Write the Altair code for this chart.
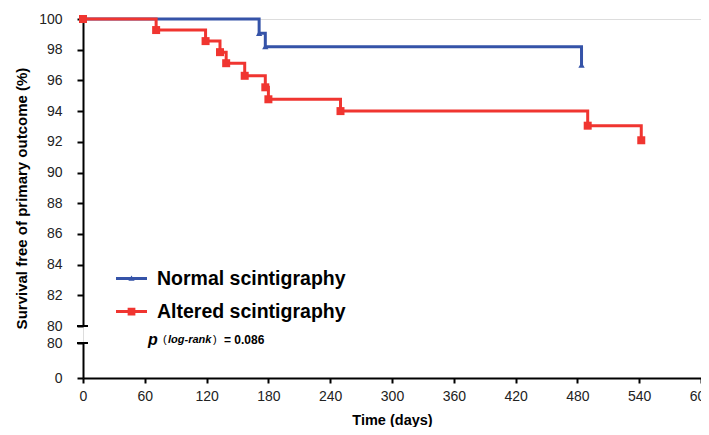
import altair as alt
import pandas as pd

# ---- data ----
normal_days = [0, 171, 177, 484]
normal_surv = [100, 99.07, 98.2, 97.0]
altered_days = [0, 71, 119, 133, 139, 157, 177, 180, 250, 490, 542]
altered_surv = [100, 99.28, 98.56, 97.84, 97.12, 96.3, 95.55, 94.77, 94.0, 93.05, 92.1]
series_names = ["Normal scintigraphy", "Altered scintigraphy"]
series_colors = ["#3553A8", "#F03530"]
x_ticks = list(range(0, 601, 60))
y_ticks_upper = list(range(80, 101, 2))
y_ticks_lower = [0, 80]
p_text = ["p", "(", "log-rank", ")", "= 0.086"]

FONT = "Liberation Sans"
W = 618
H = 359          # full plot height (both parts of the broken axis)
H_UP = 307       # upper part 80..100
LO_TOP = 324     # lower part 0..80 spans LO_TOP..H

normal_df = pd.DataFrame({"t": normal_days, "s": normal_surv})
altered_df = pd.DataFrame({"t": altered_days, "s": altered_surv})
legend_df = pd.DataFrame({"series": series_names, "t": [None, None], "s": [None, None]})

axis_common = dict(
    domainColor="black", domainWidth=2, tickColor="black", tickWidth=2,
    labelFont=FONT, labelFontSize=14, labelColor="#222", grid=False,
    titleFont=FONT, titleFontWeight="bold", titleColor="black",
)

xscale = alt.Scale(domain=[x_ticks[0], x_ticks[-1]], nice=False, zero=False)
x_enc = alt.X("t:Q", scale=xscale,
              axis=alt.Axis(values=x_ticks, tickSize=5, labelPadding=6, title="Time (days)",
                            titleFontSize=14.5, titlePadding=10, labelFlush=False,
                            labelOverlap=False, **axis_common))

y_up = alt.Y("s:Q",
             scale=alt.Scale(domain=[y_ticks_upper[0], y_ticks_upper[-1]], range=[H_UP, 0],
                             nice=False, zero=False),
             axis=alt.Axis(values=y_ticks_upper, orient="left", tickSize=6, labelPadding=15,
                           labelOverlap=False,
                           title="Survival free of primary outcome (%)", titleFontSize=15,
                           titleX=-61.5, titleY=179, titleBaseline="middle", titleAngle=270,
                           **axis_common))
y_lo = alt.Y("s:Q",
             scale=alt.Scale(domain=[y_ticks_lower[0], y_ticks_lower[-1]], range=[H, LO_TOP],
                             nice=False, zero=False),
             axis=alt.Axis(values=y_ticks_lower, orient="left", tickSize=6, labelPadding=15,
                           labelOverlap=False, title=None, **axis_common))


def step_line(df, color):
    return alt.Chart(df).mark_line(interpolate="step-after", strokeWidth=3, color=color).encode(
        x=x_enc, y=y_up)


def markers(df, color, shape, size):
    return alt.Chart(df).mark_point(shape=shape, filled=True, opacity=1, size=size,
                                    color=color).encode(x=x_enc, y=y_up)


line_path = "M-1,-0.1H1V0.1H-1Z"
tri_path = line_path + "M-0.2,0.14L0,-0.2L0.2,0.14Z"
sq_path = line_path + "M-0.25,-0.25H0.25V0.25H-0.25Z"

leg = alt.Legend(orient="none", legendX=32, legendY=243, title=None,
                 labelFont=FONT, labelFontSize=19.5, labelFontWeight="bold",
                 labelColor="black", labelOffset=9, rowPadding=7, labelLimit=0,
                 symbolSize=961, padding=0)

legend_layer = alt.Chart(legend_df).mark_point(filled=True, opacity=1, size=961).encode(
    x=x_enc, y=y_up,
    color=alt.Color("series:N", scale=alt.Scale(domain=series_names, range=series_colors),
                    legend=leg),
    shape=alt.Shape("series:N", scale=alt.Scale(domain=series_names, range=[tri_path, sq_path]),
                    legend=leg),
)

break_up = alt.Chart(pd.DataFrame({"s": [y_ticks_upper[0]]})).mark_rule(
    color="black", strokeWidth=2).encode(x=alt.value(-6), x2=alt.value(5), y=y_up)

upper = alt.layer(
    step_line(normal_df, series_colors[0]),
    markers(normal_df, series_colors[0], "triangle-up", 40),
    step_line(altered_df, series_colors[1]),
    markers(altered_df, series_colors[1], "square", 64),
    legend_layer,
    break_up,
)

lower_df = pd.DataFrame({"t": [x_ticks[0], x_ticks[-1]], "s": y_ticks_lower})
lower_axes = alt.Chart(lower_df).mark_point(opacity=0).encode(x=x_enc, y=y_lo)
break_lo = alt.Chart(pd.DataFrame({"s": [y_ticks_lower[-1]]})).mark_rule(
    color="black", strokeWidth=2).encode(x=alt.value(-6), x2=alt.value(5), y=y_lo)

ann_df = pd.DataFrame({"txt": p_text})
ANN_Y = 321


def ann(i, x, size, italic, bold=True):
    kw = dict(font=FONT, fontSize=size, fontWeight="bold" if bold else "normal",
              align="left", baseline="middle", color="black")
    if italic:
        kw["fontStyle"] = "italic"
    return alt.Chart(ann_df.iloc[[i]]).mark_text(**kw).encode(
        text="txt:N", x=alt.value(x), y=alt.value(ANN_Y))


lower = alt.layer(
    lower_axes, break_lo,
    ann(0, 65, 16, True),
    ann(1, 80, 11, False, False),
    ann(2, 85, 11, True),
    ann(3, 130, 11, False, False),
    ann(4, 141, 12, False),
)

chart = alt.layer(upper, lower).resolve_scale(y="independent").resolve_axis(
    y="independent").properties(
    width=W, height=H,
    autosize=alt.AutoSizeParams(type="none"),
    padding={"left": 75, "top": 11, "right": 0, "bottom": 49},
).configure_view(strokeWidth=0).configure(background="white")

chart.save("out.html", embed_options={"renderer": "svg", "actions": False})
